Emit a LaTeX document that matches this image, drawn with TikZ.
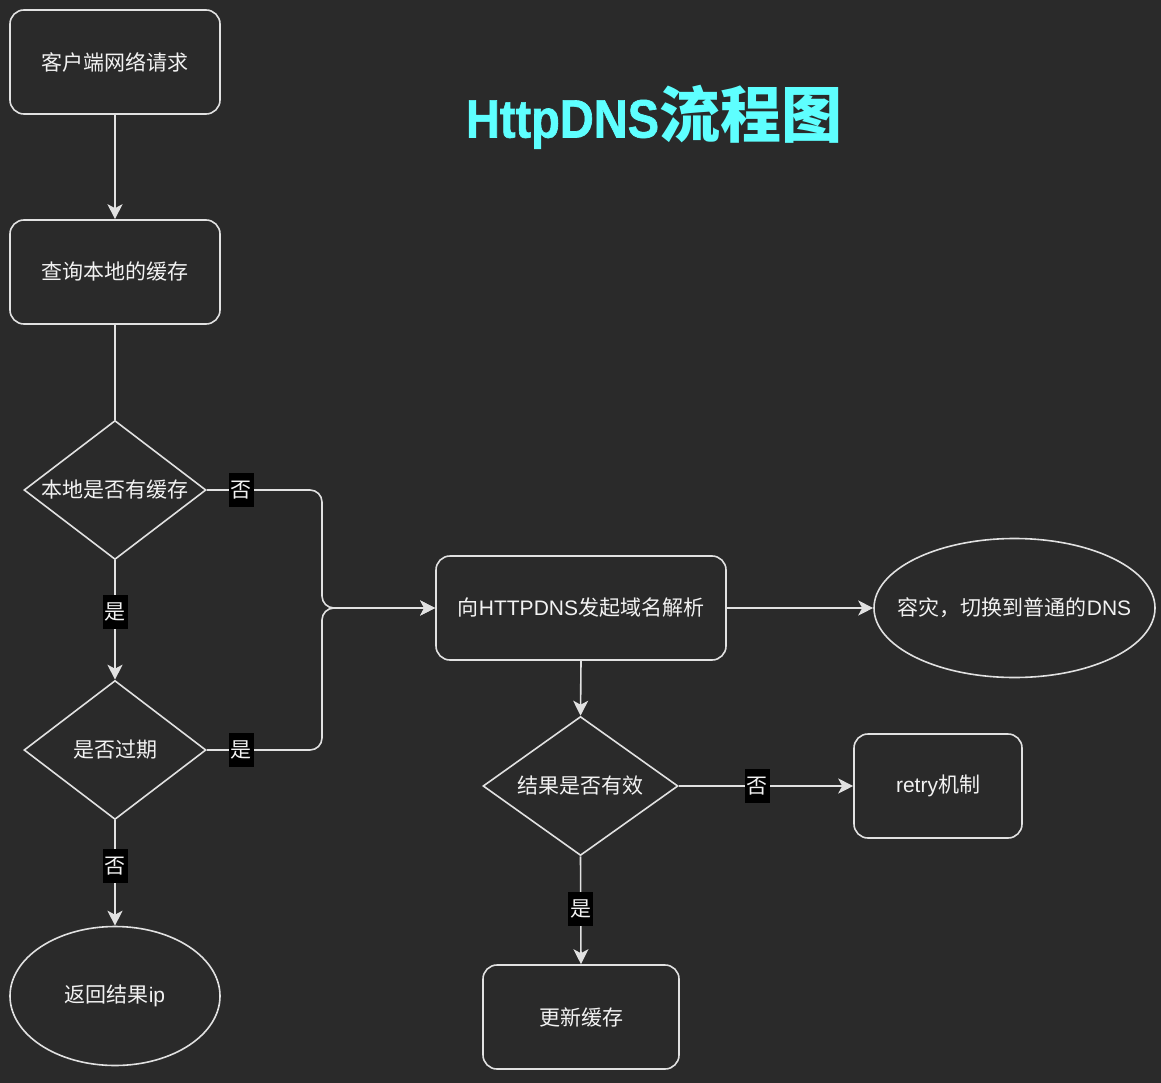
\documentclass[tikz,border=0pt]{standalone}
\usepackage{fontspec}
\setmainfont{Noto Sans CJK SC}
\newfontfamily\lat{Liberation Sans}
\newfontfamily\titlelat[FakeStretch=0.87,FakeBold=1.2]{Liberation Sans Bold}
\usetikzlibrary{shapes.geometric,arrows.meta}
\definecolor{bg}{RGB}{42,42,42}
\definecolor{ln}{RGB}{225,225,225}
\definecolor{tx}{RGB}{242,242,242}
\definecolor{ttl}{RGB}{94,255,255}
\newcommand\myft{\fontsize{21}{25}\selectfont}
\begin{document}
\begin{tikzpicture}[x=1pt,y=-1pt,
  base/.style={draw=ln, line width=1.6pt, text=tx, font=\myft, inner sep=0pt},
  rbox/.style={base, rectangle, rounded corners=14pt, minimum width=210pt, minimum height=104pt},
  dia/.style={base, diamond, minimum width=182pt, minimum height=139pt, aspect=1.3},
  oval/.style={base, ellipse},
  intext/.style={text=tx, font=\myft, inner sep=0pt},
  conn/.style={draw=ln, line width=1.6pt, -{Stealth[length=15pt,width=15pt,inset=4pt]}},
  plain/.style={draw=ln, line width=1.6pt},
  lbl/.style={fill=black, sharp corners, text=tx, font=\myft, inner xsep=2pt, inner ysep=0pt, minimum height=34pt, minimum width=25pt}
]
\fill[bg] (0,0) rectangle (1161,1083);
\useasboundingbox (0,0) rectangle (1161,1083);

\node[text=ttl, inner sep=0pt] (title) at (654,117)
  {{\titlelat\fontsize{54}{60}\selectfont HttpDNS}{\bfseries\fontsize{61}{66}\selectfont 流程图}};

\node[rbox] (req) at (115,62) {客户端网络请求};
\node[rbox] (query) at (115,272) {查询本地的缓存};
\node[dia] (d1) at (115,490) {本地是否有缓存};
\node[dia] (d2) at (115,750) {是否过期};
\node[oval, minimum width=210pt, minimum height=139pt,
      label={[intext]center:返回结果{\lat ip}}] (ret) at (115,996) {};
\node[rbox, minimum width=290pt] (hd) at (581,608) {向{\lat HTTPDNS}发起域名解析};
\node[oval, minimum width=281pt, minimum height=139pt,
      label={[intext]center:容灾，切换到普通的{\lat DNS}}] (dr) at (1014.5,608) {};
\node[dia, minimum width=195pt, minimum height=139pt, aspect=1.4] (d3) at (580.5,786) {结果是否有效};
\node[rbox, minimum width=168pt] (retry) at (938,786) {{\lat retry}机制};
\node[rbox, minimum width=196pt] (upd) at (581,1017) {更新缓存};

\coordinate (j) at (322,608);

\draw[conn] (req) -- (query);
\draw[plain] (query.south) -- (d1.north);
\draw[conn, rounded corners=12pt] (d1.east) -- node[lbl, pos=0.3] {否} (j |- d1.east) -- (j) -- (hd.west);
\draw[conn, rounded corners=12pt] (d2.east) -- node[lbl, pos=0.3] {是} (j |- d2.east) -- (j) -- (hd.west);
\draw[conn] (d1.south) -- node[lbl, pos=0.43] {是} (d2.north);
\draw[conn] (d2.south) -- node[lbl, pos=0.43] {否} (ret.north);
\draw[conn] (hd.east) -- (dr.west);
\draw[conn] (hd.south) -- (d3.north);
\draw[conn] (d3.east) -- node[lbl, pos=0.45] {否} (retry.west);
\draw[conn] (d3.south) -- node[lbl, pos=0.49] {是} (upd.north);
\end{tikzpicture}
\end{document}
